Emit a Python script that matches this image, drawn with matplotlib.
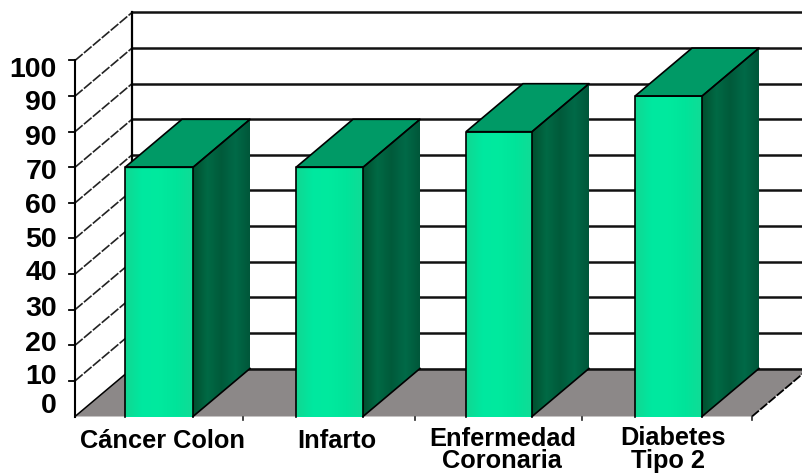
"""3D-look column chart on a flat matplotlib axes."""
import matplotlib.pyplot as plt
import numpy as np
from matplotlib.colors import LinearSegmentedColormap
from matplotlib.patches import Polygon

label_lines = ["Cáncer Colon", "Infarto", "Enfermedad", "Coronaria", "Diabetes", "Tipo 2"]
label_x = [163, 337, 503, 502, 673, 668]
label_baseline = [448, 448, 446, 468, 445, 468]

values = [70, 70, 80, 90]
grid_values = [0, 10, 20, 30, 40, 50, 60, 70, 80, 90, 100]
tick_labels = ["0", "10", "20", "30", "40", "50", "60", "70", "90", "90", "100"]  # 90 printed twice
tick_rows = [406, 377, 344, 309, 273, 240, 206, 172, 138, 103, 70]

bar_left = [125, 296, 466, 635]
bar_width = [68, 67, 66, 67]
category_ticks = [243, 415, 582]

# y scale: 10 units = 35.6 px, zero sits at pixel row 416.5
PX = 3.56
ZERO = 416.5
DX, DY = 57, 48 / PX  # depth of the box
AXIS_X = 75
RIGHT = 803
FLOOR_END = 752


def rows(py):
    return (ZERO - py) / PX


def main():
    plt.rcParams["font.family"] = ["Liberation Sans", "DejaVu Sans"]
    fig = plt.figure(figsize=(8.03, 4.74), dpi=100)
    ax = fig.add_axes([0, 0, 1, 1])
    ax.set_xlim(0, RIGHT)
    ax.set_ylim(rows(474), rows(0))
    ax.axis("off")

    # floor, cut off by the right edge of the figure
    edge_y = (RIGHT - FLOOR_END) / DX * DY
    floor = [(AXIS_X, 0), (AXIS_X + DX, DY), (RIGHT, DY), (RIGHT, edge_y), (FLOOR_END, 0)]
    ax.add_patch(Polygon(floor, closed=True, fc="#8c8888", ec="none", zorder=1))
    ax.plot([FLOOR_END, RIGHT], [0, edge_y], color="black", lw=1.3, ls=(0, (5, 1)), zorder=2)
    for x in category_ticks + [FLOOR_END]:
        ax.plot([x, x], [0, rows(419.5)], color="#222222", lw=1.2, zorder=2)

    # walls and grid
    for v in grid_values:
        ax.plot([AXIS_X + DX, RIGHT], [v + DY, v + DY], color="#111111", lw=1.8, zorder=2)
        if v > 0:
            ax.plot([AXIS_X, AXIS_X + DX], [v, v + DY], color="#222222", lw=1.2,
                    ls=(0, (6, 1)), zorder=2)
            ax.plot([AXIS_X - 6, AXIS_X], [v, v], color="black", lw=1.3, zorder=2)
    ax.plot([AXIS_X, AXIS_X + DX], [0, DY], color="black", lw=1.1, zorder=2)
    ax.plot([AXIS_X, AXIS_X], [0, 100], color="black", lw=1.5, zorder=2)
    ax.plot([AXIS_X + DX] * 2, [DY, 100 + DY], color="black", lw=1.6, zorder=2)

    # columns: lit front, dark side, mid-tone top
    front_cmap = LinearSegmentedColormap.from_list(
        "front", ["#10d892", "#00e8a0", "#00ea9e", "#00e49a", "#10dc96"])
    side_cmap = LinearSegmentedColormap.from_list(
        "side", ["#00502f", "#006a45", "#005a3a", "#006a48", "#00573a"])
    ramp = np.linspace(0, 1, 64).reshape(1, -1)

    for left, width, value in zip(bar_left, bar_width, values):
        right = left + width
        front = ax.bar(left, value, width, align="edge", color="#00e8a0", zorder=3)[0]
        side = Polygon([(right, 0), (right + DX, DY), (right + DX, value + DY), (right, value)],
                       closed=True, fc="#005f3e", ec="none", zorder=3)
        top = Polygon([(left, value), (left + DX, value + DY),
                       (right + DX, value + DY), (right, value)],
                      closed=True, fc="#009a66", ec="black", lw=1.2, zorder=4)
        ax.add_patch(side)
        ax.add_patch(top)

        im = ax.imshow(ramp, cmap=front_cmap, aspect="auto", zorder=3.5,
                       extent=(left, right, 0, value))
        im.set_clip_path(front)
        im2 = ax.imshow(ramp, cmap=side_cmap, aspect="auto", zorder=3.5,
                        extent=(right, right + DX, 0, value + DY))
        im2.set_clip_path(side)

        ax.plot([left, left, right, right], [0, value, value, 0], color="black", lw=1.2, zorder=5)
        ax.plot([right, right + DX], [0, DY], color="black", lw=1.2, zorder=5)
        ax.plot([right, right + DX], [value, value + DY], color="black", lw=1.0, zorder=5)

    # imshow resets the limits
    ax.set_xlim(0, RIGHT)
    ax.set_ylim(rows(474), rows(0))

    for text, py in zip(tick_labels, tick_rows):
        ax.text(57, rows(py), text, ha="right", va="center", fontsize=20.5,
                fontweight="bold", color="black", zorder=6)

    for text, x, py in zip(label_lines, label_x, label_baseline):
        ax.text(x, rows(py), text, ha="center", va="baseline", fontsize=18.3,
                fontweight="bold", color="black", zorder=6)

    fig.savefig("out.png", dpi=100)


if __name__ == "__main__":
    main()
